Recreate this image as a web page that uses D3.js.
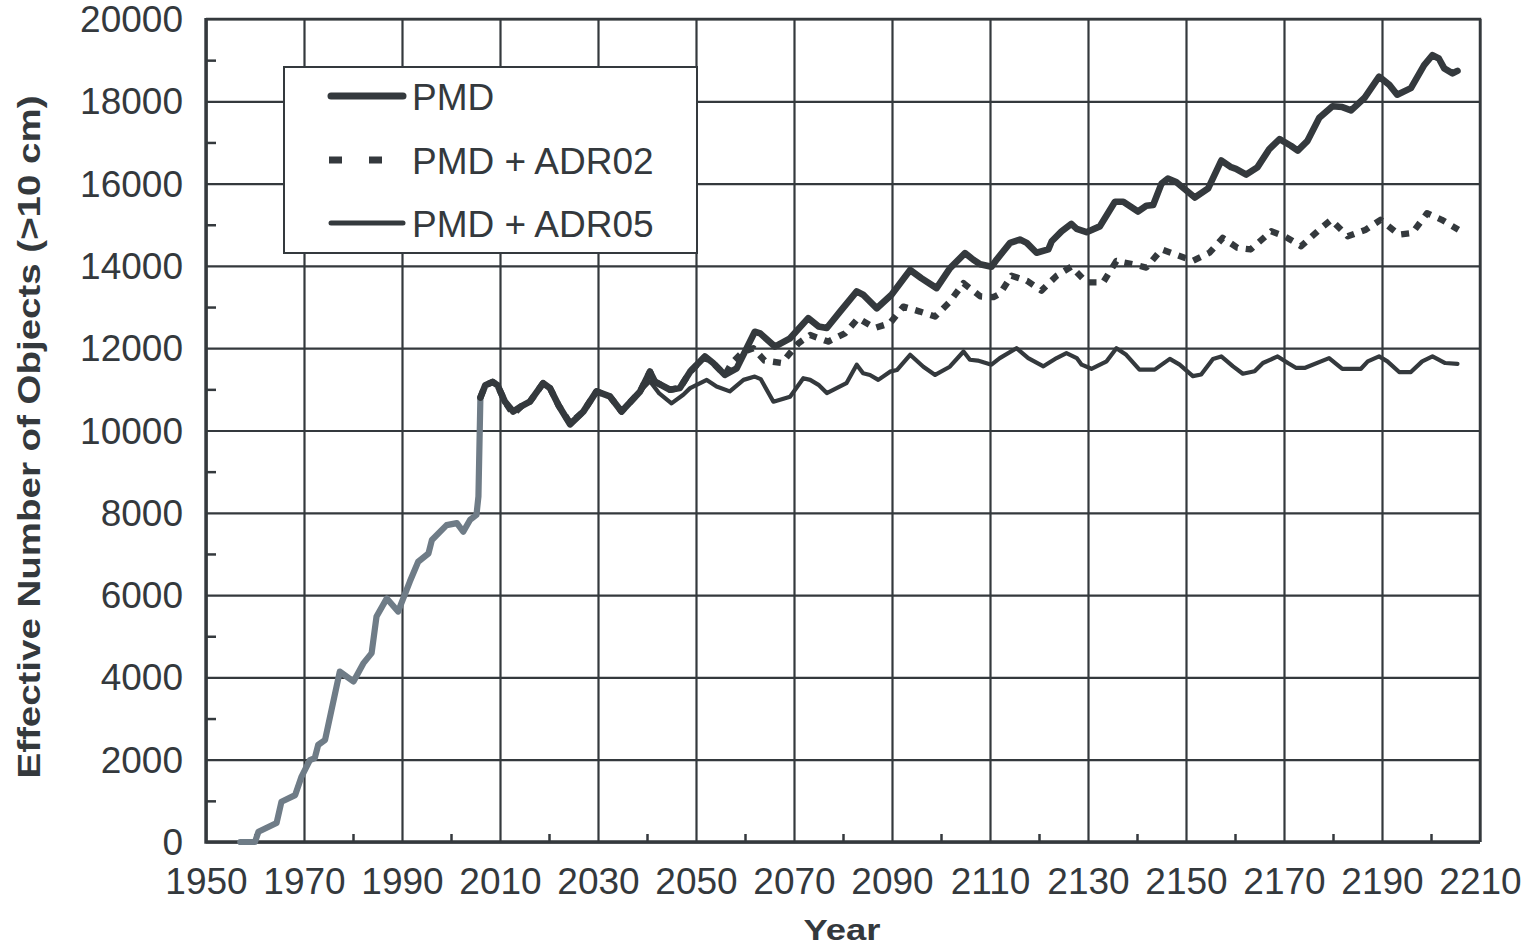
<!DOCTYPE html>
<html>
<head>
<meta charset="utf-8">
<script src="https://cdn.jsdelivr.net/npm/d3@7"></script>
<style>
  body { margin: 0; background: #fff; }
  svg { display: block; font-family: "Liberation Sans", Arial, sans-serif; }
  .tick text { fill: #34393d; }
</style>
</head>
<body>
<div id="chart"></div>
<script>
// values, [year, effective number of objects]
var historical = [
	[1957, 0], [1960, 0], [1960.7, 250], [1964.4, 460], [1965.4, 980], [1968.2, 1140],
	[1969.5, 1590], [1971.2, 1990], [1972.2, 2040], [1972.9, 2360], [1974.3, 2480],
	[1977.3, 4140], [1980.1, 3900], [1982.1, 4340], [1983.8, 4590], [1984.8, 5480],
	[1986.9, 5920], [1989.2, 5600], [1991.6, 6330], [1993.3, 6810], [1995.4, 7010],
	[1996.1, 7340], [1999.1, 7700], [2001.2, 7750], [2002.5, 7540], [2003.9, 7830],
	[2005.2, 7950], [2005.6, 8400], [2006, 10800]
];

var pmd = [
	[2006, 10800], [2007, 11100], [2008.5, 11180], [2009.5, 11100], [2011, 10700], [2012.7, 10460],
	[2014.5, 10600], [2016.1, 10700], [2018.8, 11150], [2020.2, 11030], [2022, 10600], [2024.3, 10150],
	[2027, 10460], [2029.7, 10950], [2032.4, 10830], [2034.8, 10460], [2038.6, 10950], [2040.6, 11430],
	[2041.6, 11190], [2044.7, 10990], [2046.7, 11030], [2048.8, 11430], [2051.8, 11800], [2053.5, 11640],
	[2055.9, 11350], [2058.3, 11510], [2062, 12400], [2063.1, 12360], [2066.1, 12040], [2069.2, 12240],
	[2072.9, 12730], [2075, 12530], [2076.7, 12490], [2079.4, 12890], [2082.8, 13380], [2084.1, 13300],
	[2086.9, 12970], [2089.9, 13300], [2093.7, 13900], [2096, 13700], [2099.1, 13460], [2101.8, 13940],
	[2104.9, 14310], [2106.6, 14150], [2108, 14040], [2110.3, 13980], [2111.4, 14160], [2114.1, 14560],
	[2116.1, 14640], [2117.5, 14560], [2119.5, 14320], [2121.9, 14400], [2122.6, 14600], [2124.6, 14840],
	[2126.6, 15020], [2127.7, 14900], [2129.7, 14820], [2132.4, 14960], [2135.5, 15560], [2137.2, 15560],
	[2140.2, 15320], [2141.9, 15460], [2143.3, 15480], [2145, 16000], [2146.3, 16120], [2148, 16040],
	[2151.8, 15660], [2154.5, 15880], [2157.2, 16560], [2159.2, 16400], [2160.2, 16360], [2162.3, 16220],
	[2164.6, 16400], [2167, 16840], [2169.1, 17080], [2171.4, 16920], [2172.8, 16800], [2174.8, 17040],
	[2177.2, 17600], [2179.9, 17880], [2181.9, 17860], [2183.7, 17780], [2186.4, 18080], [2189.4, 18600],
	[2191.5, 18400], [2193.1, 18160], [2195.9, 18320], [2198.6, 18880], [2200.3, 19120], [2201.6, 19040],
	[2202.7, 18800], [2204.4, 18680], [2205.4, 18740]
];

var pmdAdr02 = [
	[2006, 10800], [2007, 11100], [2008.5, 11180], [2009.5, 11100], [2011, 10700], [2012.7, 10400],
	[2014.5, 10600], [2016.1, 10700], [2018.8, 11150], [2020.2, 11030], [2022, 10600], [2024.3, 10180],
	[2027, 10460], [2029.7, 10950], [2032.4, 10830], [2034.8, 10460], [2038.6, 10950], [2040.6, 11430],
	[2041.6, 11190], [2044.7, 10990], [2046.7, 11030], [2048.8, 11430], [2051.8, 11780], [2053.5, 11640],
	[2055.9, 11350], [2057.3, 11640], [2059.5, 11900], [2061.7, 12000], [2064, 11700], [2067.5, 11640],
	[2070.9, 12120], [2073.3, 12320], [2077, 12160], [2080.4, 12360], [2083.1, 12730], [2086.5, 12490],
	[2089.6, 12610], [2092.3, 13010], [2095.7, 12890], [2098.8, 12770], [2101.8, 13130], [2104.6, 13580],
	[2108, 13260], [2110.7, 13240], [2112, 13320], [2114.4, 13760], [2117.5, 13640], [2120.5, 13400],
	[2123.6, 13760], [2126.6, 13980], [2129.7, 13600], [2133.1, 13600], [2135.8, 14120], [2139.2, 14040],
	[2141.9, 13960], [2145, 14400], [2148.7, 14240], [2151.4, 14120], [2154.8, 14320], [2157.5, 14680],
	[2160.5, 14440], [2163.2, 14400], [2167.4, 14840], [2170.1, 14720], [2173.5, 14480], [2177.2, 14880],
	[2179.6, 15120], [2183, 14720], [2186.7, 14880], [2189.7, 15120], [2193.5, 14760], [2196.2, 14800],
	[2199.2, 15280], [2202.2, 15120], [2205.6, 14880]
];

var pmdAdr05 = [
	[2006, 10800], [2007, 11100], [2008.5, 11180], [2009.5, 11100], [2011, 10700], [2012.7, 10460],
	[2014.5, 10600], [2016.1, 10700], [2018.8, 11150], [2020.2, 11030], [2022, 10600], [2024.3, 10200],
	[2027, 10460], [2029.7, 10950], [2032.4, 10830], [2034.8, 10460], [2038.6, 10950], [2040.6, 11200],
	[2042.5, 10900], [2045, 10660], [2047.4, 10870], [2048.8, 11030], [2052.2, 11230], [2054.2, 11070],
	[2056.9, 10950], [2059.7, 11230], [2062, 11310], [2063.2, 11250], [2065.8, 10700], [2069.2, 10820],
	[2071.9, 11270], [2073.3, 11230], [2075, 11110], [2076.7, 10910], [2080.7, 11150], [2082.8, 11600],
	[2084.1, 11390], [2085.5, 11350], [2087.2, 11230], [2089.6, 11430], [2091, 11470], [2093.7, 11840],
	[2096.4, 11550], [2098.8, 11350], [2101.8, 11550], [2104.6, 11920], [2105.9, 11720], [2107.5, 11700],
	[2110.3, 11600], [2112, 11760], [2115.4, 12000], [2117.8, 11760], [2120.9, 11560], [2123.6, 11760],
	[2125.6, 11880], [2127.7, 11760], [2128.7, 11600], [2130.7, 11500], [2133.8, 11680], [2135.8, 12000],
	[2137.8, 11840], [2140.5, 11480], [2143.6, 11480], [2146.7, 11740], [2148.7, 11600], [2151.4, 11320],
	[2153.1, 11360], [2155.5, 11740], [2157.2, 11800], [2159.6, 11560], [2161.6, 11380], [2164, 11440],
	[2165.7, 11640], [2168.7, 11800], [2170.8, 11640], [2172.5, 11520], [2174.2, 11520], [2179.2, 11760],
	[2181.9, 11500], [2185.7, 11500], [2187.1, 11680], [2189.4, 11800], [2191.1, 11680], [2193.5, 11420],
	[2195.9, 11420], [2198.2, 11680], [2200.3, 11800], [2202.9, 11640], [2205.4, 11620]
];

var xTicks = [1950, 1970, 1990, 2010, 2030, 2050, 2070, 2090, 2110, 2130, 2150, 2170, 2190, 2210];
var xMinorTicks = [1960, 1980, 2000, 2020, 2040, 2060, 2080, 2100, 2120, 2140, 2160, 2180, 2200];
var yTicks = [0, 2000, 4000, 6000, 8000, 10000, 12000, 14000, 16000, 18000, 20000];
var yMinorTicks = [1000, 3000, 5000, 7000, 9000, 11000, 13000, 15000, 17000, 19000];
var legendNames = ['PMD', 'PMD + ADR02', 'PMD + ADR05'];

var dark = '#34393d',
	grey = '#6f7c87';

var width = 1529,
	height = 948,
	plot = {left: 206, top: 19, right: 1480, bottom: 842};

var svg = d3.select('#chart').append('svg')
	.attr('width', width)
	.attr('height', height);

var x = d3.scaleLinear().domain([1950, 2210]).range([plot.left, plot.right]);
var y = d3.scaleLinear().domain([0, 20000]).range([plot.bottom, plot.top]);

// grid
svg.append('g')
	.attr('transform', 'translate(' + plot.left + ',0)')
	.call(d3.axisLeft(y).tickValues(yTicks).tickSize(-(plot.right - plot.left)).tickFormat(''))
	.call(function(g) { g.select('.domain').remove(); })
	.selectAll('line').attr('stroke', dark).attr('stroke-width', 2.2);

svg.append('g')
	.attr('transform', 'translate(0,' + plot.bottom + ')')
	.call(d3.axisBottom(x).tickValues(xTicks).tickSize(-(plot.bottom - plot.top)).tickFormat(''))
	.call(function(g) { g.select('.domain').remove(); })
	.selectAll('line').attr('stroke', dark).attr('stroke-width', 2.2);

// minor ticks, pointing inward
svg.append('g')
	.attr('transform', 'translate(' + plot.left + ',0)')
	.call(d3.axisLeft(y).tickValues(yMinorTicks).tickSize(-10).tickFormat(''))
	.call(function(g) { g.select('.domain').remove(); })
	.selectAll('line').attr('stroke', dark).attr('stroke-width', 2.5);

svg.append('g')
	.attr('transform', 'translate(0,' + plot.bottom + ')')
	.call(d3.axisBottom(x).tickValues(xMinorTicks).tickSize(-8).tickFormat(''))
	.call(function(g) { g.select('.domain').remove(); })
	.selectAll('line').attr('stroke', dark).attr('stroke-width', 2.5);

// frame
svg.append('path')
	.attr('d', 'M' + plot.left + ',' + plot.top + 'H' + plot.right + 'V' + plot.bottom)
	.attr('fill', 'none').attr('stroke', dark).attr('stroke-width', 2.5);
svg.append('path')
	.attr('d', 'M' + plot.left + ',' + (plot.top - 1) + 'V' + plot.bottom + 'H' + plot.right)
	.attr('fill', 'none').attr('stroke', dark).attr('stroke-width', 3.4);

// tick labels
var yAxis = svg.append('g')
	.attr('transform', 'translate(' + plot.left + ',0)')
	.call(d3.axisLeft(y).tickValues(yTicks).tickSize(0).tickPadding(23).tickFormat(d3.format('d')));
yAxis.select('.domain').remove();
yAxis.selectAll('text')
	.attr('font-size', 37)
	.attr('font-family', '"Liberation Sans", Arial, sans-serif')
	.attr('dy', '0.34em');

var xAxis = svg.append('g')
	.attr('transform', 'translate(0,' + plot.bottom + ')')
	.call(d3.axisBottom(x).tickValues(xTicks).tickSize(0).tickPadding(26).tickFormat(d3.format('d')));
xAxis.select('.domain').remove();
xAxis.selectAll('text')
	.attr('font-size', 37)
	.attr('font-family', '"Liberation Sans", Arial, sans-serif');

// axis titles
svg.append('text')
	.attr('x', 842)
	.attr('y', 940)
	.attr('text-anchor', 'middle')
	.attr('font-size', 30)
	.attr('font-weight', 'bold')
	.attr('fill', dark)
	.attr('textLength', 77)
	.attr('lengthAdjust', 'spacingAndGlyphs')
	.text('Year');

svg.append('text')
	.attr('transform', 'translate(40,437) rotate(-90)')
	.attr('text-anchor', 'middle')
	.attr('font-size', 31)
	.attr('font-weight', 'bold')
	.attr('fill', dark)
	.attr('textLength', 683)
	.attr('lengthAdjust', 'spacingAndGlyphs')
	.text('Effective Number of Objects (>10 cm)');

// series
var line = d3.line()
	.x(function(d) { return x(d[0]); })
	.y(function(d) { return y(d[1]); });

var series = [
	{data: historical, color: grey, width: 6.2, dash: null},
	{data: pmdAdr05, color: dark, width: 4.2, dash: null},
	{data: pmdAdr02, color: dark, width: 6.4, dash: '8,8'},
	{data: pmd, color: dark, width: 6.6, dash: null}
];

svg.append('g').selectAll('path')
	.data(series)
	.enter()
	.append('path')
	.attr('d', function(d) { return line(d.data); })
	.attr('fill', 'none')
	.attr('stroke', function(d) { return d.color; })
	.attr('stroke-width', function(d) { return d.width; })
	.attr('stroke-dasharray', function(d) { return d.dash; })
	.attr('stroke-linejoin', 'round')
	.attr('stroke-linecap', function(d) { return d.dash ? 'butt' : 'round'; });

// legend
var legend = svg.append('g');
legend.append('rect')
	.attr('x', 284).attr('y', 67)
	.attr('width', 413).attr('height', 186)
	.attr('fill', '#fff')
	.attr('stroke', dark)
	.attr('stroke-width', 2);

var legendStyles = [
	{width: 7, dash: null, cap: 'round', x1: 331, x2: 403, y: 96},
	{width: 7, dash: '13,27', cap: 'butt', x1: 329, x2: 383, y: 160},
	{width: 5, dash: null, cap: 'round', x1: 331, x2: 403, y: 223}
];

var legendItems = legend.selectAll('.legend-item')
	.data(legendNames)
	.enter()
	.append('g')
	.attr('class', 'legend-item')
	.attr('transform', function(d, i) { return 'translate(0,' + legendStyles[i].y + ')'; });

legendItems.append('line')
	.attr('x1', function(d, i) { return legendStyles[i].x1; })
	.attr('x2', function(d, i) { return legendStyles[i].x2; })
	.attr('stroke', dark)
	.attr('stroke-width', function(d, i) { return legendStyles[i].width; })
	.attr('stroke-dasharray', function(d, i) { return legendStyles[i].dash; })
	.attr('stroke-linecap', function(d, i) { return legendStyles[i].cap; });

legendItems.append('text')
	.attr('x', 412)
	.attr('y', 14)
	.attr('font-size', 37)
	.attr('fill', dark)
	.text(function(d) { return d; });
</script>
</body>
</html>
